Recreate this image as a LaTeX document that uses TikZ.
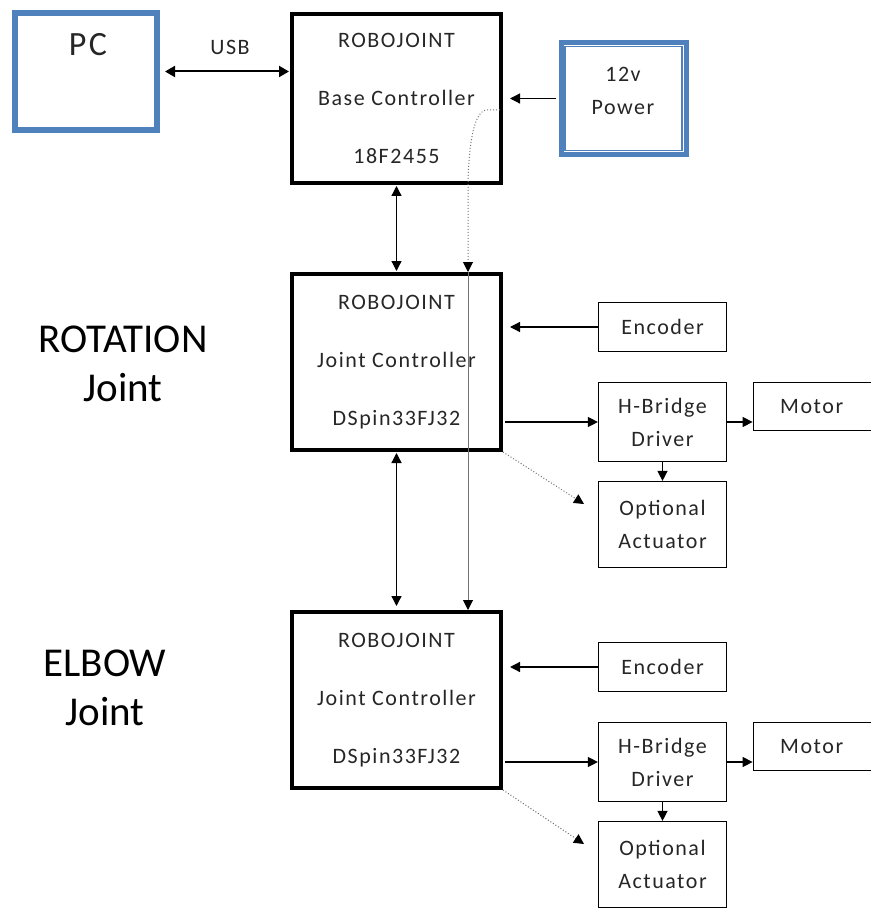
\documentclass[tikz,border=0pt]{standalone}
\usepackage{fontspec}
\setmainfont{Carlito}
\newfontfamily\boxfont[LetterSpace=7]{Carlito}
\usetikzlibrary{arrows.meta,calc}
\definecolor{obl}{HTML}{4F81BD}
\definecolor{txt}{HTML}{262626}
\begin{document}
\begin{tikzpicture}[x=1pt,y=-1pt,
  >={Triangle[length=10pt,width=10pt]},
  ctrl/.style={draw, line width=4pt, minimum width=209pt, minimum height=176pt,
    align=center, inner sep=0pt, text=txt,
    font=\boxfont\fontsize{22}{58}\selectfont},
  part/.style={draw, line width=1.2pt, minimum width=128pt, align=center,
    inner sep=0pt, text=txt, font=\boxfont\fontsize{22}{33}\selectfont},
  bluebox/.style={draw=obl, line width=6pt, inner sep=0pt},
  txtlab/.style={text=txt, align=center, inner sep=0pt, font=\boxfont\fontsize{22}{33}\selectfont},
  sidelab/.style={align=center, inner sep=0pt, font=\fontsize{41}{49}\selectfont},
  wire/.style={line width=1.3pt, black},
  dots/.style={line width=1pt, black!55, dotted},
  dtip/.style={-{Triangle[length=10pt,width=10pt,color=black]}}
]
\useasboundingbox (0,0) rectangle (870,909);

% top row
\node[bluebox, minimum width=142pt, minimum height=117pt] (pc) at (86,71.5) {};
\node[txtlab, font=\boxfont\fontsize{34}{40}\selectfont] (pclab) at (88,45) {PC};
\node[ctrl, minimum height=169pt] (base) at (396.5,98.5) {ROBOJOINT\\Base Controller\\18F2455};
\node[bluebox, line width=5pt, minimum width=125pt, minimum height=112pt] (pw) at (623.5,98.5) {};
\draw[obl, line width=1.5pt] ($(pw.north west)+(6.5,6.5)$) rectangle ($(pw.south east)+(-6.5,-6.5)$);
\node[txtlab] (pwlab) at (623,91) {12v\\Power};
\node[txtlab] (usb) at (230,47) {USB};

% rotation joint
\node[sidelab] (rotlab) at (123,364) {ROTATION\\Joint};
\node[ctrl] (rot) at (396.5,362) {ROBOJOINT\\Joint Controller\\DSpin33FJ32};
\node[part, minimum height=49pt] (enc1) at (662.5,327) {Encoder};
\node[part, minimum height=79pt] (hb1) at (662.5,422) {H-Bridge\\Driver};
\node[part, minimum width=127pt, minimum height=48pt, anchor=west] (mot1) at (752.6,406.5) {\hspace{-10pt}Motor};
\node[part, minimum height=86pt] (opt1) at (662.5,524.5) {Optional\\Actuator};

% elbow joint
\node[sidelab] (elblab) at (105,688) {ELBOW\\Joint};
\node[ctrl] (elb) at (396.5,700) {ROBOJOINT\\Joint Controller\\DSpin33FJ32};
\node[part, minimum height=49pt] (enc2) at (662.5,667) {Encoder};
\node[part, minimum height=79pt] (hb2) at (662.5,762) {H-Bridge\\Driver};
\node[part, minimum width=127pt, minimum height=48pt, anchor=west] (mot2) at (752.6,746.5) {\hspace{-10pt}Motor};
\node[part, minimum height=86pt] (opt2) at (662.5,864.5) {Optional\\Actuator};

% connectors, top
\draw[wire, line width=2pt, <->, >={Triangle[length=10pt,width=11pt]}, shorten <=5pt, shorten >=1pt] (pc.east) -- (pc.east -| base.west);
\draw[wire, ->, shorten <=3pt, shorten >=7pt] (pw.west) -- (pw.west -| base.east);
\draw[wire, <->, shorten <=1pt, shorten >=1pt] (base.south) -- (rot.north);
\coordinate (pin) at (500,110);
\coordinate (pline) at (468,190);
\draw[dots, dtip] (pin) -- (486,110) .. controls (473,112) and (468,150) .. (pline) -- (pline |- rot.north);
\draw[black!55, line width=1pt, dtip] (pline |- rot.north) -- (pline |- elb.north);
\draw[wire, <->, shorten <=1pt, shorten >=4pt] (rot.south) -- (elb.north);

% connectors, rotation
\draw[wire, ->, shorten >=7pt] (enc1.west) -- (enc1.west -| rot.east);
\draw[wire, ->, shorten <=2pt] (hb1.west -| rot.east) -- (hb1.west);
\draw[wire, ->] (hb1.east) -- (hb1.east -| mot1.west);
\draw[wire, ->] (hb1.south) -- (opt1.north);
\coordinate (d1) at (584,504);
\draw[dots, dtip] (rot.south east) -- (d1);

% connectors, elbow
\draw[wire, ->, shorten >=7pt] (enc2.west) -- (enc2.west -| elb.east);
\draw[wire, ->, shorten <=2pt] (hb2.west -| elb.east) -- (hb2.west);
\draw[wire, ->] (hb2.east) -- (hb2.east -| mot2.west);
\draw[wire, ->] (hb2.south) -- (opt2.north);
\coordinate (d2) at (584,844);
\draw[dots, dtip] (elb.south east) -- (d2);
\end{tikzpicture}
\end{document}
